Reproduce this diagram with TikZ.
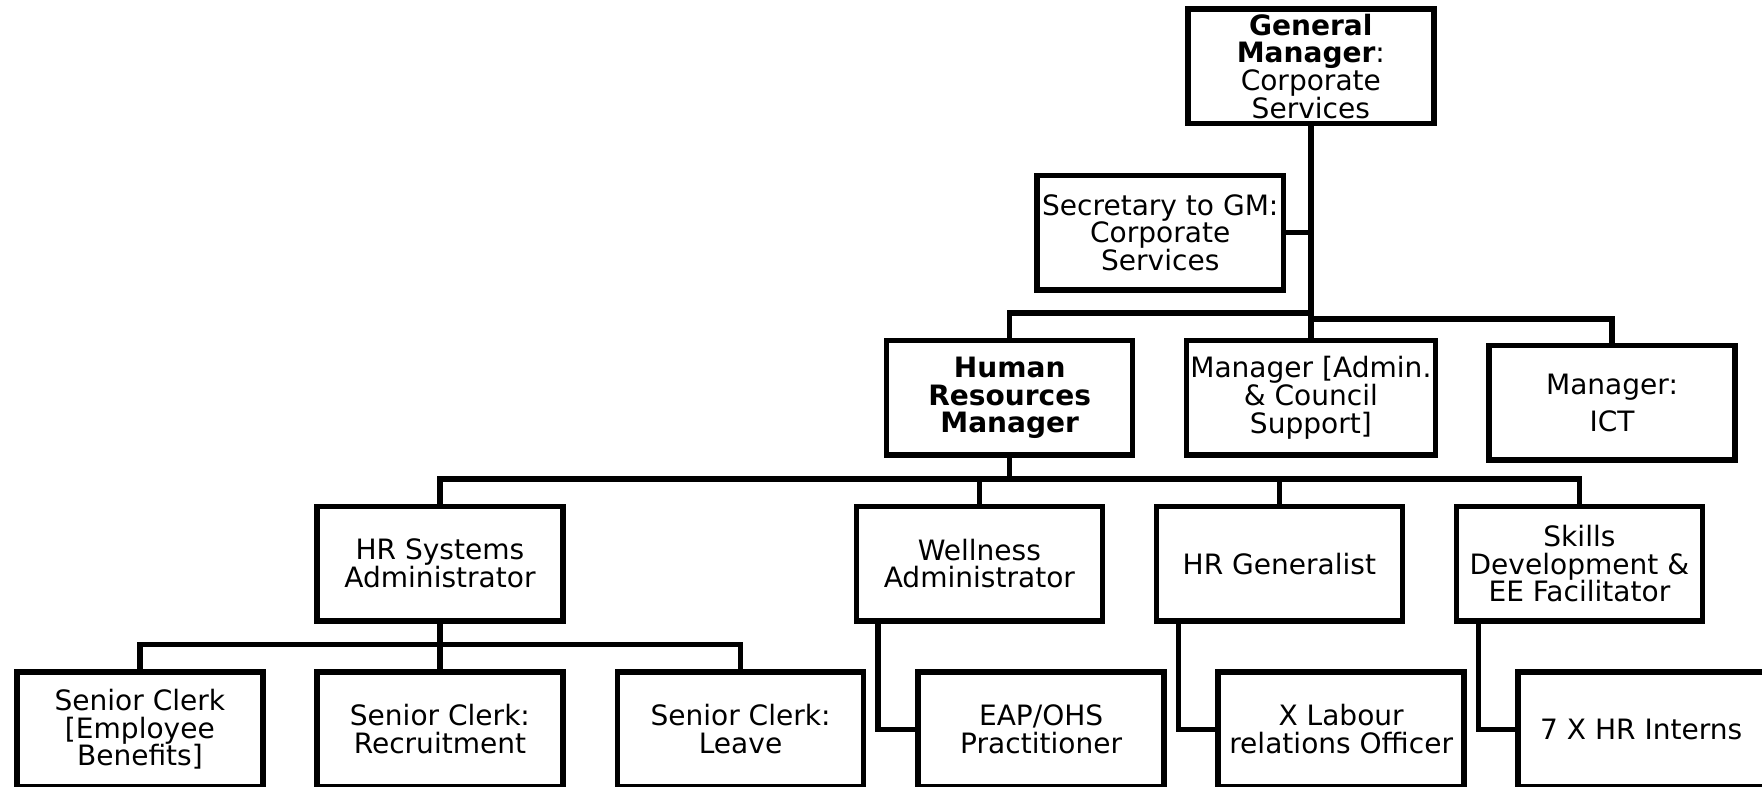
\documentclass[tikz,border=0pt]{standalone}
\usepackage{fontspec}
\setmainfont{DejaVu Sans}

\begin{document}
\begin{tikzpicture}[
    post/.style={draw, line width=1.4pt, minimum width=2.19cm, minimum height=1.02cm,
      align=center, inner sep=1pt, font=\fontsize{7.1}{7}\selectfont},
    link/.style={line width=1.4pt}
  ]
    \clip (0,0) rectangle (15.68,-7.00);

    \node[post] (gm) at (11.665,-0.59) {\textbf{General}\\\textbf{Manager}:\\Corporate\\Services};
    \node[post] (sec) at (10.325,-2.07) {Secretary to GM:\\Corporate\\Services};

    \node[post] (hrm) at (8.985,-3.54) {\textbf{Human}\\\textbf{Resources}\\\textbf{Manager}};
    \node[post] (admin) at (11.665,-3.54) {Manager [Admin.\\\& Council\\Support]};
    \node[post] (ict) at (14.345,-3.585) {Manager:\\[2.2pt]ICT};

    \node[post] (sys) at (3.915,-5.015) {HR Systems\\Administrator};
    \node[post] (well) at (8.715,-5.015) {Wellness\\Administrator};
    \node[post] (gen) at (11.385,-5.015) {HR Generalist};
    \node[post] (skills) at (14.055,-5.015) {Skills\\Development \&\\EE Facilitator};

    \node[post] (clerk1) at (1.245,-6.49) {Senior Clerk\\{[}Employee\\Benefits]};
    \node[post] (clerk2) at (3.915,-6.49) {Senior Clerk:\\Recruitment};
    \node[post] (clerk3) at (6.590,-6.49) {Senior Clerk:\\Leave};
    \node[post] (eap) at (9.265,-6.49) {EAP/OHS\\Practitioner};
    \node[post] (lab) at (11.935,-6.49) {X Labour\\relations Officer};
    \node[post] (intern) at (14.605,-6.49) {7 X HR Interns};

    % top level
    \draw[link] (gm.south) -- (admin.north);
    \draw[link] (sec.east) -- (sec.east -| gm.south);
    \draw[link] (hrm.north) -- ++(0,0.22) -| (admin.north);
    \draw[link] (ict.north) -- ++(0,0.21) -| (admin.north);

    % HR manager
    \coordinate (hrbar) at ([yshift=0.22cm]well.north);
    \draw[link] (hrm.south) -- (hrm.south |- hrbar);
    \draw[link] (sys.north) -- ++(0,0.22) -| (skills.north);
    \draw[link] (well.north) -- (hrbar);
    \draw[link] (gen.north) -- ++(0,0.22);

    % clerks
    \draw[link] (sys.south) -- (clerk2.north);
    \draw[link] (clerk1.north) -- ++(0,0.22) -| (clerk3.north);

    \draw[link] ([xshift=0.22cm]well.south west) |- (eap.west);
    \draw[link] ([xshift=0.22cm]gen.south west) |- (lab.west);
    \draw[link] ([xshift=0.22cm]skills.south west) |- (intern.west);
  \end{tikzpicture}
\end{document}
